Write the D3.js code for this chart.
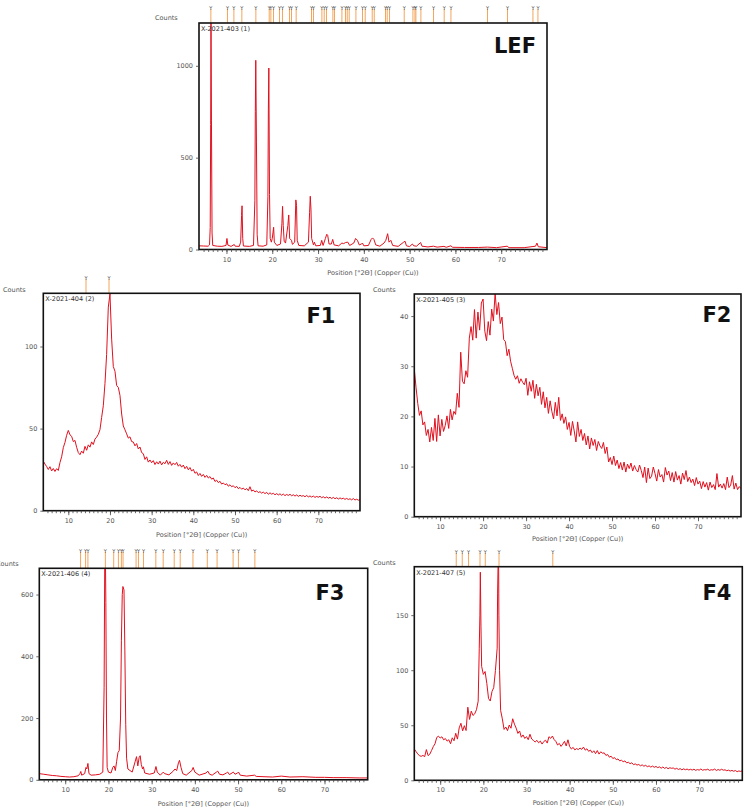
<!DOCTYPE html>
<html lang="en">
  <head>
    <meta charset="UTF-8" />
    <title>XRD patterns</title>
    <script src="https://d3js.org/d3.v7.min.js"></script>
    <style>
      body { margin: 0; background: #fff; }
      text { font-family: "DejaVu Sans", sans-serif; }
    </style>
  </head>
  <body>
    <svg width="745" height="810" id="chart"></svg>

    <script>
      // scan grid used by the noisy patterns (degrees 2theta)
      const scanStart = 4, scanStep = 0.4;

      // LEF: [2theta, counts]
      const lefProfile = [
        [4.0,20],[5.0,19],[6.0,18],[6.3,25],[6.45,120],[6.55,680],[6.62,1300],[6.72,700],[6.85,90],[7.0,22],
        [8.0,18],[9.0,17],[9.9,22],[10.1,60],[10.3,24],[11.0,17],[11.7,27],[11.9,18],[12.8,17],[13.1,40],
        [13.3,185],[13.4,238],[13.55,60],[13.7,19],[15.0,17],[15.9,22],[16.2,265],[16.3,750],[16.4,1030],[16.55,580],
        [16.7,80],[16.9,20],[18.0,18],[18.8,25],[19.05,290],[19.15,760],[19.25,988],[19.4,300],[19.55,60],[19.8,40],
        [20.0,60],[20.3,121],[20.45,40],[21.0,22],[21.8,30],[22.1,140],[22.25,235],[22.4,130],[22.6,45],[22.9,35],
        [23.4,130],[23.6,188],[23.8,60],[24.2,50],[24.4,28],[24.9,40],[25.15,270],[25.3,240],[25.45,50],[25.8,22],
        [27.0,20],[27.9,40],[28.15,200],[28.3,290],[28.45,220],[28.6,60],[29.0,25],[29.2,40],[29.5,20],[30.5,22],
        [30.8,50],[31.1,22],[31.6,60],[31.9,83],[32.1,78],[32.4,30],[32.9,30],[33.2,55],[33.5,25],[34.5,20],
        [35.2,35],[35.6,32],[36.0,38],[36.5,40],[36.9,22],[37.8,35],[38.2,60],[38.6,50],[39.0,25],[39.5,30],
        [39.7,35],[40.0,20],[41.0,22],[41.6,55],[41.9,63],[42.2,55],[42.6,25],[43.5,18],[44.4,35],[44.8,50],
        [45.2,86],[45.5,40],[45.9,50],[46.3,22],[47.5,17],[48.7,40],[49.0,45],[49.3,20],[50.0,16],[50.6,30],
        [50.9,20],[51.5,18],[52.4,38],[52.7,18],[54.0,14],[55.2,18],[56.0,13],[57.5,17],[58.0,12],[59.0,20],
        [59.4,12],[62.0,11],[65.0,11],[67.0,13],[69.0,10],[71.3,18],[71.7,10],[75.0,10],[77.5,18],[77.8,35],
        [78.1,15],[80.0,10]
      ];

      // F1 counts on the scan grid 4.0 .. 80.0
      const f1Counts = [
        30.2,28.4,26.9,25.1,26.8,24.2,25.7,23.9,25.6,24.5,
        29.3,32.8,38.4,41.6,45.9,48.9,46.2,45.3,42.1,42.8,
        38.6,35.4,34.1,36.3,35.0,39.2,36.8,40.1,38.7,41.9,
        40.3,43.6,44.8,46.5,49.4,56.8,63.9,77.5,95.2,124.0,
        132.0,104.5,87.8,84.9,76.3,75.1,70.2,58.9,51.6,49.3,
        46.8,44.2,45.0,42.1,41.8,39.5,40.9,37.6,38.8,35.4,
        34.7,31.2,32.8,29.6,30.9,29.2,30.5,28.1,29.8,28.4,
        30.2,27.9,29.5,28.6,30.7,28.2,29.9,27.6,29.1,28.0,
        29.4,27.1,28.2,26.5,27.8,25.6,27.0,24.9,26.3,24.1,
        25.2,22.8,23.6,21.4,22.7,20.9,22.1,20.3,21.5,19.9,
        20.8,19.2,19.9,17.8,18.6,17.1,17.9,16.2,16.9,15.8,
        16.4,14.9,15.8,14.6,15.2,14.0,14.8,13.4,14.2,13.1,
        13.8,12.7,13.5,12.2,14.6,11.9,12.6,11.4,12.1,11.0,
        11.6,10.7,11.3,10.4,11.2,10.0,10.9,10.1,10.6,9.7,
        10.4,9.6,10.3,9.4,10.1,9.2,9.9,9.3,10.0,9.1,
        9.7,8.9,9.6,8.7,9.4,8.8,9.2,8.5,9.3,8.4,
        9.0,8.3,8.9,8.1,8.7,8.2,8.8,7.9,8.5,7.7,
        8.4,7.6,8.2,7.4,8.1,7.3,7.9,7.1,7.8,7.2,
        7.6,6.9,7.5,6.8,7.3,6.6,7.4,6.5,7.0,6.4,
        6.8
      ];

      // F2 counts on the scan grid
      const f2Counts = [
        29.4,25.8,22.6,20.2,21.1,18.3,18.9,16.2,17.4,14.9,
        17.8,15.2,19.6,15.0,20.3,16.1,19.4,17.0,18.2,20.1,
        17.6,21.4,19.3,21.0,20.4,24.6,21.8,32.8,27.0,26.5,
        29.1,27.8,35.6,37.9,35.2,41.3,35.6,40.8,37.2,42.6,
        43.4,37.0,35.1,38.9,36.2,41.4,39.0,44.6,40.3,42.7,
        38.5,39.8,35.3,34.9,32.1,33.4,31.0,29.6,28.2,27.4,
        28.1,26.6,27.5,26.8,26.3,27.6,24.2,26.9,25.0,27.2,
        23.6,26.4,24.1,25.8,22.4,24.9,21.7,23.8,20.6,23.1,
        21.0,19.5,22.8,20.1,23.8,19.2,20.5,18.6,19.9,17.4,
        18.8,16.2,19.0,17.1,14.9,18.9,16.0,17.4,15.2,16.6,
        14.3,16.1,13.5,15.7,14.2,15.4,13.2,15.0,14.1,13.6,
        14.8,12.6,13.9,10.9,11.8,10.4,12.1,10.2,11.3,9.6,
        10.8,9.3,10.9,8.9,10.5,9.6,10.7,9.1,10.2,9.4,
        8.9,10.3,9.2,7.8,9.9,6.8,9.7,7.6,8.1,9.9,
        8.6,7.1,9.4,7.9,8.4,6.9,9.8,8.3,9.1,7.2,
        8.8,6.9,9.0,7.3,8.2,6.5,8.7,7.4,9.2,7.0,
        7.9,6.8,7.5,6.2,7.8,6.5,7.1,5.6,7.0,5.9,
        6.8,5.3,6.9,5.8,6.4,5.4,8.6,5.9,6.5,5.7,
        6.6,5.4,7.9,5.8,6.3,8.2,5.5,6.7,5.4,6.0,
        5.6
      ];

      // F3: [2theta, counts]
      const f3Profile = [
        [4,20],[5,18],[6,16],[7,14],[8,13],[9,11],[10,10],[11,9],[12,10],[13,13],
        [13.4,20],[13.6,27],[13.8,15],[14.5,20],[14.8,40],[15.0,35],[15.25,53],[15.5,20],[16,15],[17,16],
        [18,18],[18.7,25],[19.0,300],[19.15,720],[19.3,720],[19.4,575],[19.55,200],[19.7,40],[20,25],[20.6,22],
        [21.0,40],[21.3,45],[21.6,30],[21.9,60],[22.2,88],[22.5,95],[22.8,200],[23.0,450],[23.2,600],[23.35,626],
        [23.6,615],[23.8,420],[24.0,180],[24.2,70],[24.5,35],[25.5,25],[26.2,60],[26.5,75],[26.8,45],[27.1,72],
        [27.35,78],[27.6,50],[27.9,35],[28.1,42],[28.4,22],[29.5,18],[30.6,22],[31.0,43],[31.3,25],[32.0,15],
        [32.7,25],[33.0,20],[34.0,16],[35.0,28],[35.4,35],[35.8,30],[36.2,55],[36.45,63],[36.8,40],[37.2,20],
        [38.0,15],[39.3,30],[39.6,40],[40.0,25],[41.0,15],[42.6,22],[43.0,28],[43.4,18],[44.0,15],[45.0,25],
        [45.3,28],[45.7,18],[46.5,16],[47.3,22],[47.6,25],[48.0,17],[48.6,22],[48.9,25],[49.3,18],[49.9,22],
        [50.1,25],[50.5,15],[52,12],[53.8,15],[54.2,11],[56,10],[58,9],[60,12],[62,9],[65,10],
        [68,8],[70,8],[72,7],[75,7],[78,6],[80,6]
      ];

      // F4 counts on the scan grid, plus extra points on the two sharp peaks
      const f4Counts = [
        28.4,26.1,24.0,22.3,21.8,22.6,21.5,27.9,22.4,23.8,
        27.1,30.6,33.2,38.9,40.1,38.4,39.5,36.8,37.9,35.6,
        36.8,33.2,38.6,35.9,42.7,37.4,47.6,51.8,44.9,49.6,
        45.2,66.4,55.3,62.8,58.9,60.4,64.1,71.8,150.0,103.5,
        96.2,98.8,88.1,74.3,72.0,80.6,84.1,99.7,120.0,150.0,
        63.5,55.8,46.2,48.4,45.1,50.2,47.3,55.9,51.0,47.4,
        42.6,44.8,39.1,41.2,38.0,39.7,36.9,41.8,37.5,36.2,
        34.8,36.3,34.1,35.6,32.9,35.2,36.4,33.8,39.6,38.1,
        40.2,37.0,35.3,32.1,33.5,30.8,32.9,35.4,31.2,36.8,
        30.6,28.4,29.9,27.6,28.8,27.9,29.3,28.1,30.2,27.4,
        28.6,26.3,27.5,25.1,26.8,24.2,27.0,23.8,25.9,24.6,
        24.9,22.6,23.4,21.0,21.9,19.8,20.6,18.7,19.4,17.6,
        18.2,16.9,17.6,15.8,16.4,15.1,15.9,14.2,14.9,13.8,
        14.4,13.2,14.0,12.8,13.6,12.4,13.1,12.0,12.9,11.8,
        12.6,11.5,12.2,11.0,12.1,10.8,11.7,10.5,11.4,10.9,
        11.2,10.1,10.9,9.8,10.6,9.5,10.4,9.6,10.2,9.4,
        10.0,9.3,10.1,9.0,9.8,9.2,10.3,9.1,9.7,9.4,
        10.1,9.0,9.6,9.3,10.2,8.9,9.8,9.1,10.0,9.2,
        9.5,8.7,9.2,8.4,9.0,8.2,8.9,7.8,8.5,8.1,
        8.6
      ];
      const f4Peaks = [[19.05,120],[19.3,189],[19.45,140],[23.3,170],[23.45,205],[23.55,190],[23.75,100]];

      // reference pattern positions (degrees 2theta)
      const lefRefPeaks = [6.59,10.22,11.62,13.36,16.42,19.33,19.70,20.27,21.58,22.23,23.76,24.20,25.22,28.57,29.0,
        30.84,31.34,31.84,33.24,33.59,35.21,35.99,36.37,36.80,38.27,39.71,40.30,41.83,42.27,44.73,45.10,45.61,
        48.82,50.72,51.16,51.37,52.46,55.22,57.55,59.02,67.01,71.38,76.93,78.02];
      const f1RefPeaks = [14.25, 19.77];
      const f2RefPeaks = [];
      const f3RefPeaks = [13.55,14.71,15.25,19.29,21.22,22.31,23.0,23.38,26.40,26.95,28.11,30.97,32.67,35.22,
        36.61,39.56,42.88,45.14,48.85,50.08,53.89];
      const f4RefPeaks = [13.72,15.11,16.57,19.22,20.45,23.63,36.09];

      const xMajorTicks = [10, 20, 30, 40, 50, 60, 70];
      const xMinorTicks = d3.range(5, 80, 1);

      const onGrid = (counts) => counts.map((c, i) => [scanStart + i * scanStep, c]);

      const panels = [
        { name: "LEF", sample: "X-2021-403 (1)", data: lefProfile, refs: lefRefPeaks,
          x: 199, y: 23, w: 348, h: 226.5, yMax: 1233, yTicks: [0, 500, 1000],
          countsX: 155, countsY: 20, refTop: 4, labelX: 515, labelY: 53, axisLabelY: 275 },
        { name: "F1", sample: "X-2021-404 (2)", data: onGrid(f1Counts), refs: f1RefPeaks,
          x: 43.3, y: 293.3, w: 316.7, h: 217.4, yMax: 132.4, yTicks: [0, 50, 100],
          countsX: 3, countsY: 292, refTop: 274, labelX: 321, labelY: 323, axisLabelY: 537 },
        { name: "F2", sample: "X-2021-405 (3)", data: onGrid(f2Counts), refs: f2RefPeaks,
          x: 414.3, y: 294, w: 326.7, h: 222.7, yMax: 44.4, yTicks: [0, 10, 20, 30, 40],
          countsX: 373, countsY: 292, refTop: 275, labelX: 717, labelY: 322, axisLabelY: 541 },
        { name: "F3", sample: "X-2021-406 (4)", data: f3Profile, refs: f3RefPeaks,
          x: 39.3, y: 568.3, w: 328.4, h: 211.5, yMax: 685, yTicks: [0, 200, 400, 600],
          countsX: -4, countsY: 566, refTop: 547, labelX: 330, labelY: 600, axisLabelY: 806 },
        { name: "F4", sample: "X-2021-407 (5)", data: onGrid(f4Counts).concat(f4Peaks).sort((a, b) => a[0] - b[0]),
          refs: f4RefPeaks, x: 414.3, y: 566.7, w: 328, h: 213.6, yMax: 194, yTicks: [0, 50, 100, 150],
          countsX: 373, countsY: 565, refTop: 548, labelX: 717, labelY: 600, axisLabelY: 805 }
      ];

      const svg = d3.select("#chart");
      const textColor = "#555";

      panels.forEach((p, k) => {
        const xScale = d3.scaleLinear().domain([4, 80]).range([p.x, p.x + p.w]);
        const yScale = d3.scaleLinear().domain([0, p.yMax]).range([p.y + p.h, p.y]);
        const g = svg.append("g");

        // reference sticks above the frame
        p.refs.forEach((d) => {
          g.append("line")
            .attr("x1", xScale(d)).attr("x2", xScale(d))
            .attr("y1", p.refTop + 5).attr("y2", p.y)
            .attr("stroke", "#f3a55c").attr("stroke-width", 1);
          g.append("text")
            .attr("x", xScale(d)).attr("y", p.refTop + 5.5)
            .attr("text-anchor", "middle")
            .attr("font-size", 5).attr("fill", "#444")
            .text("Y");
        });

        // clip for the trace
        svg.append("clipPath").attr("id", "clip" + k)
          .append("rect").attr("x", p.x).attr("y", p.y).attr("width", p.w).attr("height", p.h);

        const line = d3.line()
          .x((d) => xScale(d[0]))
          .y((d) => yScale(d[1]));

        g.append("path")
          .datum(p.data)
          .attr("d", line)
          .attr("fill", "none")
          .attr("stroke", "#e0101e")
          .attr("stroke-width", 1)
          .attr("clip-path", "url(#clip" + k + ")");

        // frame
        g.append("rect")
          .attr("x", p.x).attr("y", p.y).attr("width", p.w).attr("height", p.h)
          .attr("fill", "none").attr("stroke", "#111").attr("stroke-width", 1.6);

        // x axis: minor and major ticks
        const xMinor = g.append("g")
          .attr("transform", "translate(0," + (p.y + p.h) + ")")
          .call(d3.axisBottom(xScale).tickValues(xMinorTicks).tickSize(2.5).tickFormat(""));
        const xMajor = g.append("g")
          .attr("transform", "translate(0," + (p.y + p.h) + ")")
          .call(d3.axisBottom(xScale).tickValues(xMajorTicks).tickSize(4.5).tickPadding(3).tickFormat(d3.format("d")));
        const yAxis = g.append("g")
          .attr("transform", "translate(" + p.x + ",0)")
          .call(d3.axisLeft(yScale).tickValues(p.yTicks).tickSize(3).tickPadding(3).tickFormat(d3.format("d")));

        [xMinor, xMajor, yAxis].forEach((a) => {
          a.select(".domain").remove();
          a.selectAll("line").attr("stroke", "#444").attr("stroke-width", 0.8);
          a.selectAll("text").attr("font-size", 6.5).attr("fill", textColor)
            .attr("font-family", "DejaVu Sans, sans-serif");
        });

        // texts
        g.append("text")
          .attr("x", p.countsX).attr("y", p.countsY)
          .attr("font-size", 6.5).attr("fill", textColor)
          .text("Counts");
        g.append("text")
          .attr("x", p.x + 2).attr("y", p.y + 8)
          .attr("font-size", 6.5).attr("fill", "#333")
          .text(p.sample);
        g.append("text")
          .attr("x", xScale(42)).attr("y", p.axisLabelY)
          .attr("text-anchor", "middle")
          .attr("font-size", 6.5).attr("fill", textColor)
          .text("Position [°2Θ] (Copper (Cu))");
        g.append("text")
          .attr("x", p.labelX).attr("y", p.labelY)
          .attr("text-anchor", "middle")
          .attr("font-family", "Lato, sans-serif")
          .attr("font-weight", "bold")
          .attr("font-size", 21)
          .attr("fill", "#111")
          .text(p.name);
      });
    </script>
  </body>
</html>
